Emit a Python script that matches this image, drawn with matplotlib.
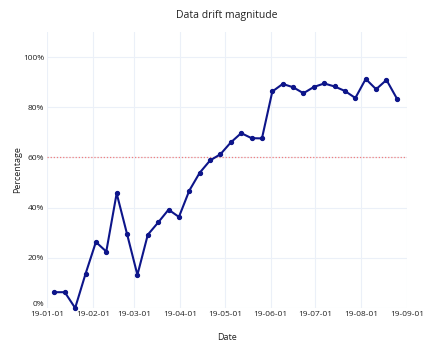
import numpy as np
import pandas as pd
import matplotlib
matplotlib.use("Agg")
import matplotlib.pyplot as plt
import matplotlib.dates as mdates
from matplotlib.ticker import FuncFormatter

plt.rcParams['font.family'] = ['Open Sans', 'DejaVu Sans']

# weekly drift values (%)
dates = pd.date_range("2019-01-06", periods=34, freq="7D")
drift = [6.3, 6.3, 0.0, 13.6, 26.3, 22.5, 45.7, 29.5, 13.2, 29.2,
         34.1, 39.2, 36.3, 46.8, 53.9, 58.8, 61.3, 66.0, 69.7, 67.7,
         67.6, 86.3, 89.3, 88.0, 85.6, 88.1, 89.5, 88.3, 86.5, 83.7,
         91.3, 87.2, 90.9, 83.5]
threshold = 60

fig = plt.figure(figsize=(4.33, 3.52), dpi=100)
ax = fig.add_axes([0.1085, 0.125, 0.832, 0.784])

ax.plot(dates, drift, color='#0d158a', lw=1.5, marker='o', ms=2.8,
        zorder=3, clip_on=False)
ax.axhline(threshold, color='#f08080', lw=0.9, ls=(0, (1, 1.5)), zorder=2)

ax.set_xlim(pd.Timestamp("2019-01-01"), pd.Timestamp("2019-09-01"))
ax.set_ylim(0, 110)
ax.set_yticks([0, 20, 40, 60, 80, 100])
ax.yaxis.set_major_formatter(FuncFormatter(lambda v, p: f"{v:.0f}%"))
ax.xaxis.set_major_locator(mdates.MonthLocator())
ax.xaxis.set_major_formatter(mdates.DateFormatter("%y-%m-%d"))

ax.grid(True, color='#ebf0f8', lw=0.8)
ax.set_axisbelow(True)
for s in ax.spines.values():
    s.set_visible(False)
ax.tick_params(length=0, labelsize=6, pad=2)
for lbl in ax.get_xticklabels() + ax.get_yticklabels():
    lbl.set_color('#222222')
# the 0% label sits a little higher, just above the first date label
ax.get_yticklabels()[0].set_va('bottom')

ax.set_title("Data drift magnitude", fontsize=7.5, pad=10, color='#222222')
ax.set_xlabel("Date", fontsize=6.5, labelpad=11, color='#222222')
ax.set_ylabel("Percentage", fontsize=6.5, labelpad=1, color='#222222')

fig.savefig("out.png", dpi=100, facecolor='white')
